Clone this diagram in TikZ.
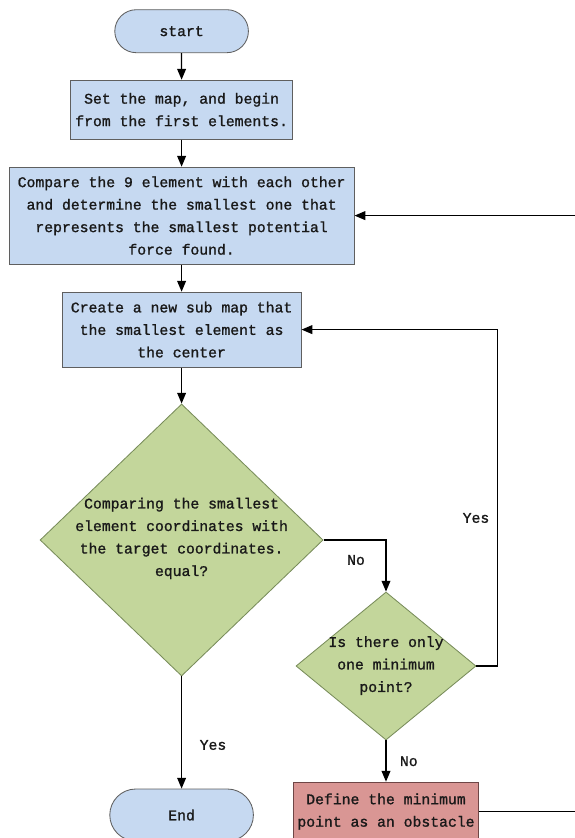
\documentclass[tikz,border=0pt]{standalone}
\usepackage{fontspec}
\newfontfamily\flowfont[FakeBold=1.2]{Liberation Mono}
\usetikzlibrary{shapes.geometric,shapes.misc,arrows.meta}

\definecolor{boxblue}{RGB}{198,217,241}
\definecolor{boxgreen}{RGB}{195,214,155}
\definecolor{boxred}{RGB}{217,150,148}
\definecolor{edgegray}{RGB}{95,95,95}
\definecolor{edgegreen}{RGB}{120,140,90}
\definecolor{edgered}{RGB}{110,70,70}

\begin{document}
\begin{tikzpicture}[
  every node/.style={font=\flowfont\fontsize{10.5}{16}\selectfont, text=black!90},
  terminal/.style={rounded rectangle, draw=edgegray, fill=boxblue, line width=0.6pt},
  process/.style={rectangle, draw=edgegray, fill=boxblue, line width=0.6pt, align=center, inner sep=0pt},
  decision/.style={diamond, draw=edgegreen, fill=boxgreen, line width=0.6pt, inner sep=0pt},
  arrow/.style={-{Triangle[length=0.27cm,width=0.22cm]}, line width=0.9pt}
]
\useasboundingbox (0,0) rectangle (14.375,-20.95);
\clip (0,0) rectangle (14.375,-20.95);

\node[terminal, minimum width=3.575cm, minimum height=1.075cm] (start) at (4.54,-0.78) {start};
\node[process, minimum width=5.55cm, minimum height=1.475cm] (setmap) at (4.54,-2.74) {Set the map, and begin\\ from the first elements.};
\node[process, minimum width=8.625cm, minimum height=2.425cm] (compare) at (4.54,-5.39) {Compare the 9 element with each other\\ and determine the smallest one that\\ represents the smallest potential\\ force found.};
\node[process, minimum width=5.975cm, minimum height=1.875cm] (submap) at (4.54,-8.24) {Create a new sub map that\\ the smallest element as\\ the center};

% decisions: shape first, wording laid over it
\node[decision, minimum width=7.075cm, minimum height=6.8cm] (equal) at (4.54,-13.5) {};
\node[align=center] (equaltext) at (4.54,-13.46) {Comparing the smallest\\ element coordinates with\\ the target coordinates.\\ equal?};
\node[decision, minimum width=4.5cm, minimum height=3.7cm] (minimum) at (9.65,-16.65) {};
\node[align=center] (minimumtext) at (9.65,-16.64) {Is there only\\ one minimum\\ point?};

\node[process, draw=edgered, fill=boxred, minimum width=4.625cm, minimum height=1.475cm] (obstacle) at (9.65,-20.29) {Define the minimum\\ point as an obstacle};
\node[terminal, minimum width=3.825cm, minimum height=1.3cm] (end) at (4.54,-20.375) {End};

\draw[arrow] (start) -- (setmap);
\draw[arrow] (setmap) -- (compare);
\draw[arrow] (compare) -- (submap);
\draw[arrow] (submap) -- (equal);
\draw[arrow] (equal.east) -| (minimum.north);
\draw[arrow] (minimum.east) -- ++(0.525,0) |- (submap.east);
\draw[arrow] (minimum.south) -- (obstacle.north);
\draw[arrow] (equal.south) -- (end.north);
\draw[arrow] (obstacle.east) -- ++(5.5,0) |- (compare.east);

\node (no1) at (8.9,-14.0) {No};
\node (yes1) at (11.9,-12.95) {Yes};
\node (no2) at (10.22,-19.03) {No};
\node (yes2) at (5.325,-18.625) {Yes};
\end{tikzpicture}
\end{document}
